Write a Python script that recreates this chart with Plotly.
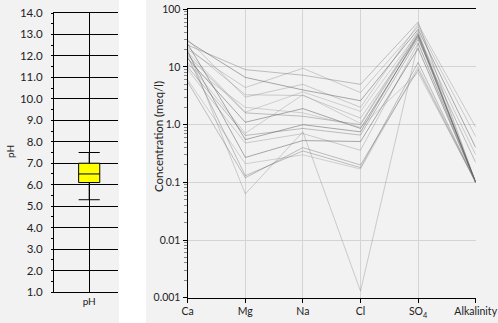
import plotly.graph_objects as go

# ---- data ----
ions = ["Ca", "Mg", "Na", "Cl", "SO<sub>4</sub>", "Alkalinity"]
ph_stats = {"q1": 6.1, "median": 6.5, "q3": 7.0, "low": 5.3, "high": 7.5}

s01 = [24, 9.0, 7.2, 5.0, 60, 0.1]
s02 = [20, 4.4, 9.5, 3.6, 50, 0.62]
s03 = [28, 6.6, 4.0, 2.6, 45, 0.4]
s04 = [18, 1.65, 3.7, 1.7, 40, 0.1]
s05 = [16, 1.6, 1.4, 1.0, 38, 0.1]
s06 = [22, 3.3, 3.2, 1.3, 35, 0.3]
s07 = [14, 1.1, 1.9, 0.86, 33, 0.1]
s08 = [12, 0.71, 3.3, 1.05, 42, 0.1]
s09 = [10, 0.65, 0.86, 0.66, 30, 0.22]
s10 = [9, 0.48, 0.7, 0.36, 26, 0.1]
s11 = [18, 0.27, 0.53, 0.51, 21, 0.1]
s12 = [6, 0.21, 0.3, 0.17, 10, 0.1]
s13 = [15, 0.13, 0.35, 0.18, 12, 0.1]
s14 = [20, 0.063, 0.75, 0.0013, 26, 0.1]
s15 = [25, 0.55, 1.0, 0.75, 36, 0.1]
s16 = [11, 2.0, 1.6, 0.9, 8, 0.1]
s17 = [5.5, 0.12, 0.4, 0.2, 9, 0.1]
s18 = [30, 3.0, 5.0, 2.0, 55, 0.9]
series = [s01, s02, s03, s04, s05, s06, s07, s08, s09, s10,
          s11, s12, s13, s14, s15, s16, s17, s18]

line_cols = ["rgba(90,90,90,0.45)", "rgba(130,130,130,0.45)", "rgba(70,70,70,0.55)",
             "rgba(160,160,160,0.55)"]

W, H = 498, 323
def px(x):
    return x / W
def py(y):
    return (H - y) / H

fig = go.Figure()

fig.add_trace(go.Box(
    x=[0], q1=[ph_stats["q1"]], median=[ph_stats["median"]], q3=[ph_stats["q3"]],
    lowerfence=[ph_stats["low"]], upperfence=[ph_stats["high"]],
    width=0.33, whiskerwidth=1, fillcolor="#ffff00",
    line=dict(color="black", width=1), boxpoints=False,
    xaxis="x", yaxis="y", showlegend=False, hoverinfo="skip"))

xs = list(range(len(ions)))
for i, s in enumerate(series):
    fig.add_trace(go.Scatter(
        x=xs, y=s, mode="lines", xaxis="x2", yaxis="y2",
        line=dict(color=line_cols[i % len(line_cols)], width=0.8),
        showlegend=False, hoverinfo="skip"))

font = dict(family="Lato, 'Open Sans', sans-serif", size=11, color="#222")

fig.update_layout(
    template="none",
    width=W, height=H, margin=dict(l=0, r=0, t=0, b=0, autoexpand=False),
    paper_bgcolor="#f2f2f2", plot_bgcolor="rgba(0,0,0,0)",
    font=font, showlegend=False,
    xaxis=dict(domain=[px(54), px(118)], range=[-0.55, 0.45], automargin=False,
               tickvals=[0], ticktext=["pH"], showgrid=True, gridcolor="black",
               gridwidth=1, showline=True, linecolor="black", linewidth=1,
               mirror=True, ticks="", zeroline=False, anchor="y",
               tickfont=dict(size=10)),
    yaxis=dict(domain=[py(292), py(13)], range=[1, 14], dtick=1, tick0=1,
               automargin=False, ticklabelstandoff=6,
               tickformat=".1f", showgrid=True, gridcolor="black", gridwidth=1,
               showline=True, linecolor="black", linewidth=1,
               ticks="outside", ticklen=2, tickcolor="black", zeroline=False,
               anchor="x", tickfont=dict(size=11.5),
               minor=dict(tickvals=[x + 0.5 for x in range(1, 14)], ticks="outside",
                          ticklen=2, tickcolor="black", showgrid=False)),
    xaxis2=dict(domain=[px(187.7), px(475.7)], range=[0, 5], tickvals=xs,
                automargin=False, ticklabeloverflow="allow",
                ticktext=ions, showgrid=True, gridcolor="#d4d4d4", gridwidth=1,
                showline=True, linecolor="black", linewidth=1.3, mirror=True,
                ticks="outside", ticklen=4, tickcolor="black", zeroline=False,
                anchor="y2", tickfont=dict(size=10.5)),
    yaxis2=dict(domain=[py(297.7), py(9.3)], type="log", range=[-3, 2],
                automargin=False,
                tickvals=[0.001, 0.01, 0.1, 1, 10, 100],
                ticktext=["0.001", "0.01", "0.1", "1.0", "10", "100"],
                showgrid=True, gridcolor="#d4d4d4", gridwidth=1,
                showline=True, linecolor="black", linewidth=1.3,
                ticks="outside", ticklen=4, tickcolor="black", zeroline=False,
                anchor="x2", tickfont=dict(size=10.5),
                minor=dict(tickvals=[m * 10 ** e for e in range(-3, 2) for m in range(2, 10)],
                           ticks="outside", ticklen=3, tickcolor="#888", showgrid=False)),
    shapes=[dict(type="rect", xref="paper", yref="paper", x0=px(119), x1=px(146),
                 y0=0, y1=1, fillcolor="white", line=dict(width=0), layer="below")],
    annotations=[
        dict(text="pH", x=px(10), y=py(152), xref="paper", yref="paper",
             xanchor="center", yanchor="middle",
             textangle=-90, showarrow=False, font=dict(size=10)),
        dict(text="Concentration (meq/l)", x=px(158), y=py(137), xref="paper",
             yref="paper", xanchor="center", yanchor="middle",
             textangle=-90, showarrow=False, font=dict(size=11.5)),
    ],
)

fig.write_html("out.html", post_script="document.body.style.margin='0';document.body.style.overflow='hidden';")
